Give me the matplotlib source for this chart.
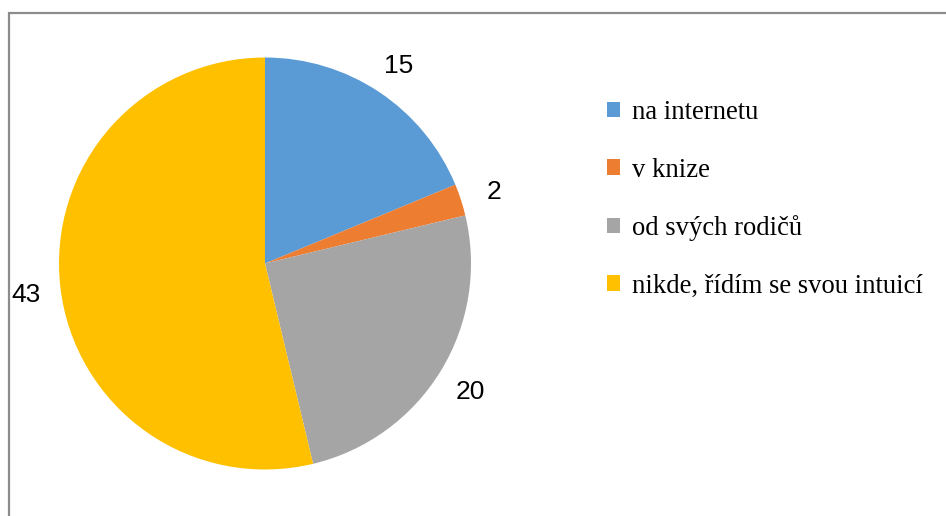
import numpy as np
import matplotlib
matplotlib.use("Agg")
import matplotlib.pyplot as plt
from matplotlib.patches import Rectangle, Patch

categories = ["na internetu", "v knize", "od svých rodičů", "nikde, řídím se svou intuicí"]
values = [15, 2, 20, 43]
colors = ["#5B9BD5", "#ED7D31", "#A5A5A5", "#FFC000"]

W, H = 946, 516
fig = plt.figure(figsize=(W / 100, H / 100), dpi=100)
ax = fig.add_axes([0, 0, 1, 1])

cx, cy, R = 265, H - 263.5, 206
wedges, _ = ax.pie(values, colors=colors, startangle=90, counterclock=False,
                   center=(cx, cy), radius=R, frame=True,
                   wedgeprops=dict(linewidth=0))
ax.set_xlim(0, W)
ax.set_ylim(0, H)
ax.set_aspect("equal")
ax.axis("off")

for w, v in zip(wedges, values):
    ang = np.deg2rad((w.theta1 + w.theta2) / 2)
    r = R * 1.17
    ax.text(cx + r * np.cos(ang), cy + r * np.sin(ang) - 3, str(v),
            ha="center", va="center", fontsize=19,
            family=["Liberation Sans", "DejaVu Sans"], color="#000000")

handles = [Patch(facecolor=c, edgecolor="none") for c in colors]
leg = ax.legend(handles, categories, loc="upper left",
                bbox_to_anchor=(607 / W, 1 - 100 / H), frameon=False,
                prop={"family": ["Liberation Serif", "DejaVu Serif"], "size": 19.2},
                handlelength=0.5, handleheight=0.5, handletextpad=0.45,
                labelspacing=1.22, borderaxespad=0, borderpad=0)

fig.add_artist(Rectangle((9 / W, -0.2), 1.5, (1 - 13 / H) + 0.2,
                         transform=fig.transFigure, fill=False,
                         edgecolor="#8c8c8c", linewidth=1.6))

fig.savefig("out.png", dpi=100)
